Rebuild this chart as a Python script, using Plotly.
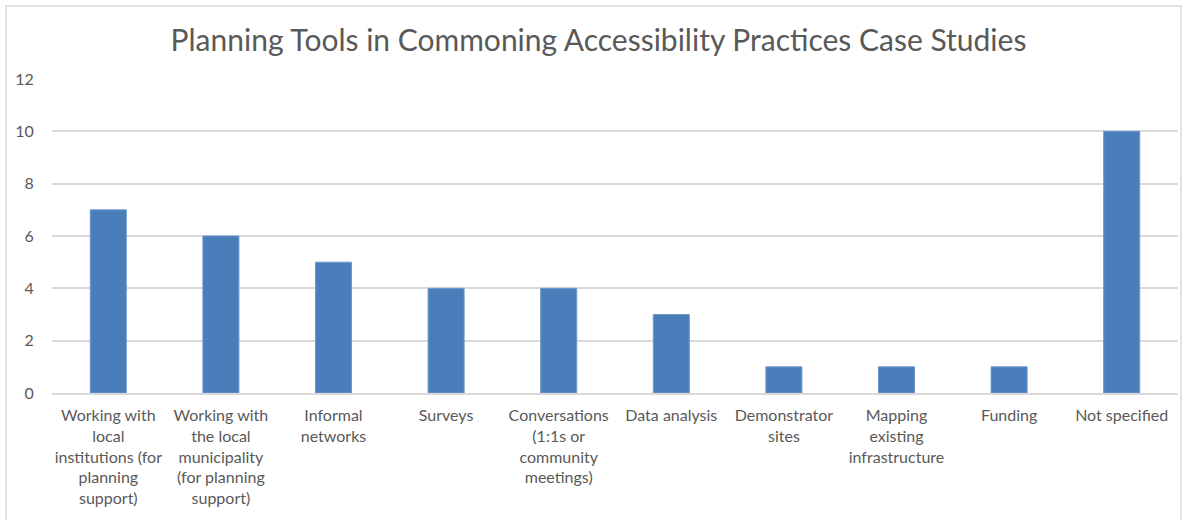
import plotly.graph_objects as go

categories = [
    "Working with<br>local<br>institutions (for<br>planning<br>support)",
    "Working with<br>the local<br>municipality<br>(for planning<br>support)",
    "Informal<br>networks",
    "Surveys",
    "Conversations<br>(1:1s or<br>community<br>meetings)",
    "Data analysis",
    "Demonstrator<br>sites",
    "Mapping<br>existing<br>infrastructure",
    "Funding",
    "Not specified",
]
counts = [7, 6, 5, 4, 4, 3, 1, 1, 1, 10]
y_ticks = [0, 2, 4, 6, 8, 10, 12]

TEXT = "#595959"
GRID = "#d9d9d9"
FONT = "Lato, 'Open Sans', sans-serif"

fig = go.Figure(
    go.Bar(
        x=categories,
        y=counts,
        marker=dict(color="#4a7ebb", line=dict(color="#6f98cc", width=1)),
        width=0.32,
    )
)

fig.update_layout(
    width=1197,
    height=520,
    margin=dict(l=52, r=19, t=79, b=127),
    paper_bgcolor="white",
    plot_bgcolor="white",
    showlegend=False,
    font=dict(family=FONT, color=TEXT, size=16),
    title=dict(
        text="Planning Tools in Commoning Accessibility Practices Case Studies",
        x=0.5,
        xanchor="center",
        y=1 - 40 / 520,
        yanchor="middle",
        font=dict(family=FONT, size=30, color=TEXT),
    ),
    shapes=[
        dict(
            type="rect",
            xref="paper",
            yref="paper",
            x0=(6 - 52) / 1126,
            x1=(1181 - 52) / 1126,
            y0=-0.6,
            y1=(393 - 6) / 314,
            line=dict(color=GRID, width=1.5),
            layer="below",
        )
    ],
)

fig.update_xaxes(
    showgrid=False,
    showline=True,
    linecolor=GRID,
    linewidth=1.5,
    ticks="outside",
    ticklen=7,
    tickcolor="rgba(0,0,0,0)",
    tickangle=0,
    tickfont=dict(size=16, color=TEXT),
)

fig.update_yaxes(
    range=[0, 12],
    tickvals=y_ticks,
    showgrid=True,
    gridcolor=GRID,
    gridwidth=1.5,
    zeroline=False,
    ticks="outside",
    ticklen=14,
    tickcolor="rgba(0,0,0,0)",
    tickfont=dict(size=16, color=TEXT),
)

fig.write_html("out.html")
